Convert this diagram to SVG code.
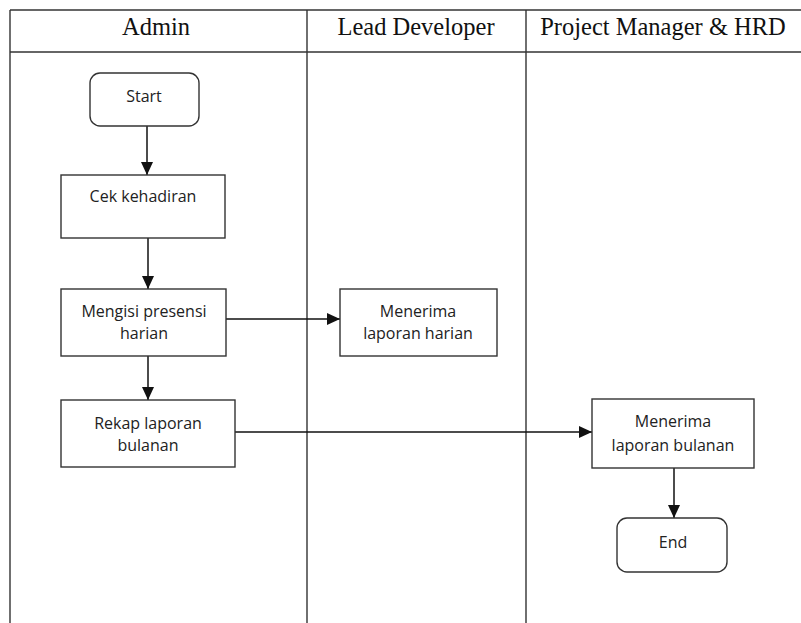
<svg xmlns="http://www.w3.org/2000/svg" width="801" height="623" viewBox="0 0 801 623">
<style>
.lane{stroke:#333;stroke-width:1.4;fill:none}
.hdr{font-family:"Liberation Serif","Times New Roman",serif;font-size:24.5px;fill:#111;text-anchor:middle}
.box{fill:#fff;stroke:#333;stroke-width:1.4}
.txt{font-family:"Open Sans","Noto Sans",sans-serif;font-size:16px;fill:#222;text-anchor:middle}
.conn{stroke:#111;stroke-width:1.5;fill:none}
</style>
<defs>
<marker id="arr" markerWidth="13" markerHeight="13" viewBox="0 0 13 12" refX="13" refY="6" orient="auto" markerUnits="userSpaceOnUse">
<path d="M0,0 L13,6 L0,12 Z" fill="#111"/>
</marker>
</defs>
<rect width="801" height="623" fill="#fff"/>
<g id="lanes">
<line class="lane" x1="10" y1="10" x2="801" y2="10"/>
<line class="lane" x1="10" y1="52" x2="801" y2="52"/>
<line class="lane" x1="10" y1="10" x2="10" y2="623"/>
<line class="lane" x1="307" y1="10" x2="307" y2="623"/>
<line class="lane" x1="526" y1="10" x2="526" y2="623"/>
<text class="hdr" x="156" y="35">Admin</text>
<text class="hdr" x="416" y="35">Lead Developer</text>
<text class="hdr" x="663" y="35">Project Manager &amp; HRD</text>
</g>
<g id="connectors">
<line class="conn" x1="147" y1="126" x2="147" y2="175" marker-end="url(#arr)"/>
<line class="conn" x1="148" y1="238" x2="148" y2="289" marker-end="url(#arr)"/>
<line class="conn" x1="226" y1="319" x2="340" y2="319" marker-end="url(#arr)"/>
<line class="conn" x1="148" y1="356" x2="148" y2="400" marker-end="url(#arr)"/>
<line class="conn" x1="235" y1="432" x2="592" y2="432" marker-end="url(#arr)"/>
<line class="conn" x1="674" y1="468" x2="674" y2="518" marker-end="url(#arr)"/>
</g>
<g id="start">
<rect class="box" x="90" y="73" width="109" height="53" rx="10"/>
<text class="txt" x="144" y="102">Start</text>
</g>
<g id="cek">
<rect class="box" x="61" y="175" width="164" height="63"/>
<text class="txt" x="143" y="202">Cek kehadiran</text>
</g>
<g id="mengisi">
<rect class="box" x="61" y="289" width="165" height="67"/>
<text class="txt" x="144" y="317">Mengisi presensi</text>
<text class="txt" x="144" y="339">harian</text>
</g>
<g id="harian">
<rect class="box" x="340" y="289" width="157" height="67"/>
<text class="txt" x="418" y="317">Menerima</text>
<text class="txt" x="418" y="339">laporan harian</text>
</g>
<g id="rekap">
<rect class="box" x="61" y="400" width="174" height="67"/>
<text class="txt" x="148" y="429">Rekap laporan</text>
<text class="txt" x="148" y="451">bulanan</text>
</g>
<g id="bulanan">
<rect class="box" x="592" y="399" width="162" height="69"/>
<text class="txt" x="673" y="427">Menerima</text>
<text class="txt" x="673" y="451">laporan bulanan</text>
</g>
<g id="end">
<rect class="box" x="617" y="518" width="110" height="54" rx="10"/>
<text class="txt" x="673" y="548">End</text>
</g>
</svg>
